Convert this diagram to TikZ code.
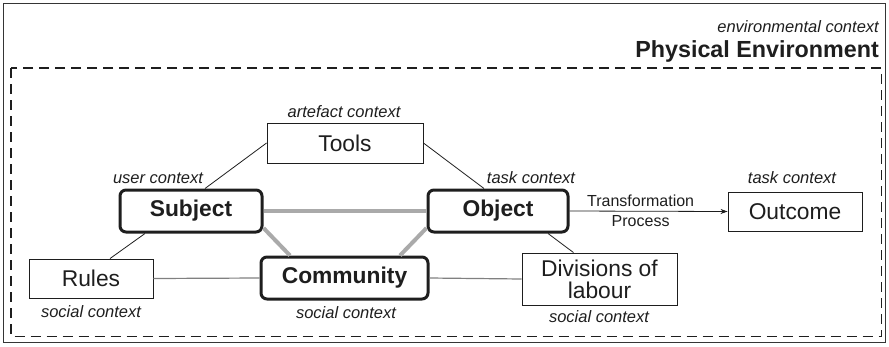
\documentclass[tikz,border=0pt]{standalone}
\usepackage{fontspec}
\setmainfont{Liberation Sans}
\usetikzlibrary{calc,arrows.meta}
\definecolor{ink}{HTML}{1E1E1E}
\definecolor{linkgray}{HTML}{AAAAAA}
\tikzset{
  plain/.style={draw=ink, line width=0.9pt, fill=white, text=ink, inner sep=0pt,
    font=\fontsize{22.8}{24}\selectfont, align=center},
  core/.style={draw=ink, line width=3pt, rounded corners=6pt, fill=white, text=ink,
    inner sep=0pt, font=\fontsize{22.8}{24}\selectfont\bfseries},
  ctx/.style={text=ink, inner sep=0pt, font=\fontsize{16.5}{18}\selectfont\itshape},
  flowlabel/.style={text=ink, inner sep=0pt, font=\fontsize{16}{18}\selectfont},
  thin/.style={draw=ink, line width=0.8pt},
  strong/.style={draw=linkgray, line width=4pt},
  soft/.style={draw=gray, line width=1.2pt},
}
\begin{document}
\begin{tikzpicture}[x=1pt, y=-1pt]
\useasboundingbox (0,0) rectangle (889,346);
% frames
\draw[ink!90, line width=1.2pt] (3.5,3.5) rectangle (885.5,342.5);
\draw[ink, line width=1.5pt, dash pattern=on 10pt off 6pt] (11,68) rectangle (881.5,336.5);
\node[ctx, anchor=base east] (envctx) at (879,32) {environmental context};
\node[text=ink, inner sep=0pt, anchor=base east, font=\fontsize{23.3}{25}\selectfont\bfseries]
  (phys) at (879,57.7) {Physical Environment};

% boxes
\node[plain, minimum width=156pt, minimum height=40pt] (Tools) at (345,143) {Tools};
\node[core, minimum width=142pt, minimum height=42pt] (Subject) at (191,211) {Subject};
\node[core, minimum width=140pt, minimum height=42pt] (Object) at (498,211) {Object};
\node[core, minimum width=167pt, minimum height=42pt] (Community) at (344.5,278) {Community};
\node[plain, minimum width=124pt, minimum height=39pt] (Rules) at (91,278.5) {Rules};
\node[plain, minimum width=155pt, minimum height=52pt] (Divisions) at (599.5,279)
  {Divisions of\\[-2pt]labour};
\node[plain, minimum width=134pt, minimum height=39pt] (Outcome) at (795,211.5) {Outcome};

% context labels
\node[ctx] (ctxTools) at (344,112) {artefact context};
\node[ctx] (ctxSubject) at (158,178) {user context};
\node[ctx] (ctxObject) at (531,178) {task context};
\node[ctx] (ctxOutcome) at (792,178) {task context};
\node[ctx] (ctxRules) at (91,312) {social context};
\node[ctx] (ctxCommunity) at (346,312.5) {social context};
\node[ctx] (ctxDivisions) at (599,316.5) {social context};

% mediated relations
\draw[strong] (Subject.east) -- (Object.west);
\draw[strong] ($(Subject.east)+(0,17)$) -- ($(Community.north)+(-54.5,0)$);
\draw[strong] ($(Community.north)+(55.5,0)$) -- ($(Object.west)+(0,17)$);
\draw[soft] (Rules.east) -- (Community.west);
\draw[soft] (Community.east) -- (Divisions.west);
\draw[thin] (Tools.west) -- ($(Subject.north)+(14,0)$);
\draw[thin] (Tools.east) -- ($(Object.north)+(-14,0)$);
\draw[thin] ($(Rules.north)+(19,0)$) -- ($(Subject.south)+(-46,0)$);
\draw[thin] ($(Object.south)+(50,0)$) -- ($(Divisions.north)+(-26,0)$);

% transformation into the outcome
\draw[thin, -{Stealth[length=7pt, width=5pt]}] (Object.east) -- (Outcome.west)
  node[flowlabel, pos=0.45, above=4pt] (trans) {Transformation}
  node[flowlabel, pos=0.45, below=4pt] (proc) {Process};
\end{tikzpicture}
\end{document}
